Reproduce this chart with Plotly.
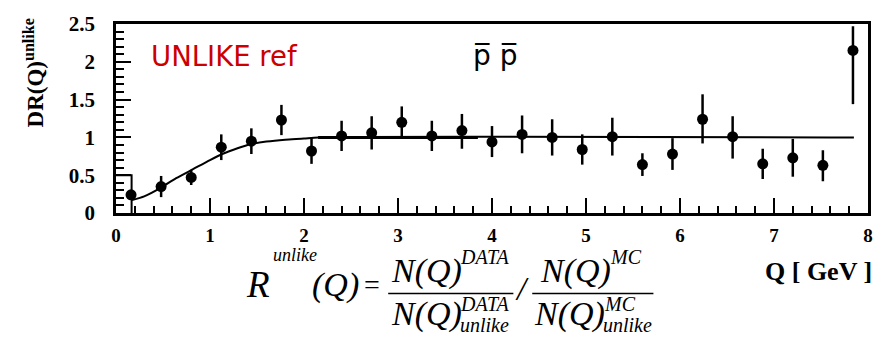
import plotly.graph_objects as go

# ---- data ----
q = [0.16, 0.48, 0.80, 1.12, 1.44, 1.76, 2.08, 2.40, 2.72, 3.04, 3.36, 3.68, 4.00,
     4.32, 4.64, 4.96, 5.28, 5.60, 5.92, 6.24, 6.56, 6.88, 7.20, 7.52, 7.84]
ratio = [0.24, 0.35, 0.47, 0.87, 0.95, 1.23, 0.82, 1.02, 1.06, 1.20, 1.02, 1.09, 0.94,
         1.04, 1.00, 0.84, 1.01, 0.64, 0.78, 1.24, 1.01, 0.65, 0.73, 0.63, 2.15]
err_up = [0.05, 0.14, 0.10, 0.17, 0.17, 0.20, 0.17, 0.20, 0.22, 0.21, 0.20, 0.22, 0.21,
          0.25, 0.24, 0.20, 0.25, 0.15, 0.21, 0.33, 0.27, 0.20, 0.25, 0.20, 0.32]
err_down = [0.05, 0.14, 0.10, 0.17, 0.17, 0.20, 0.17, 0.20, 0.22, 0.19, 0.20, 0.24, 0.20,
            0.25, 0.24, 0.20, 0.25, 0.15, 0.21, 0.32, 0.29, 0.20, 0.25, 0.21, 0.71]

fit_q = [0.17, 0.30, 0.47, 0.64, 0.82, 1.00, 1.13, 1.30, 1.43, 1.60, 1.80, 2.00, 2.15, 7.85]
fit_r = [0.17, 0.22, 0.33, 0.46, 0.58, 0.70, 0.78, 0.86, 0.91, 0.945, 0.97, 0.985, 1.0, 1.0]
flat_q = [2.15, 3.85]
flat_r = [1.0, 1.0]
step_q = [0.0, 0.166, 0.166]
step_r = [0.5, 0.5, 0.0]

x_ticks = [0, 1, 2, 3, 4, 5, 6, 7, 8]
x_labels = ["0", "1", "2", "3", "4", "5", "6", "7", "8"]
y_ticks = [0, 0.5, 1, 1.5, 2, 2.5]
y_labels = ["0", "0.5", "1", "1.5", "2", "2.5"]

W, H = 885, 339
L, R, T, B = 116, 873, 16, 213


def px(x):
    return (x - L) / (R - L)


def py(y):
    return (B - y) / (B - T)


fig = go.Figure()
fig.add_trace(go.Scatter(x=step_q, y=step_r, mode="lines",
                         line=dict(color="black", width=2), hoverinfo="skip"))
fig.add_trace(go.Scatter(x=fit_q, y=fit_r, mode="lines",
                         line=dict(color="black", width=2, shape="spline", smoothing=0.6)))
fig.add_trace(go.Scatter(x=flat_q, y=flat_r, mode="lines",
                         line=dict(color="black", width=3)))
fig.add_trace(go.Scatter(
    x=q, y=ratio, mode="markers",
    marker=dict(color="black", size=11, symbol="circle"),
    error_y=dict(type="data", symmetric=False, array=err_up, arrayminus=err_down,
                 color="black", thickness=2.5, width=0),
))

serif = "Liberation Serif"
ann = []


def txt(s, x, y, size, xanchor="left", yanchor="middle", italic=True, bold=False,
        family=serif, color="black", angle=0):
    f = dict(family=family, size=size, color=color)
    if italic:
        f["style"] = "italic"
    if bold:
        f["weight"] = "bold"
    ann.append(dict(text=s, x=px(x), y=py(y), xref="paper", yref="paper",
                    xanchor=xanchor, yanchor=yanchor, showarrow=False, font=f,
                    textangle=angle, borderpad=0))


# in-plot labels
txt("UNLIKE ref", 150, 49, 27.5, italic=False, family="DejaVu Sans", color="#CC0000")
txt("p\u0305 p\u0305", 498, 49, 28, xanchor="center", italic=False, family="DejaVu Sans")

# axis titles
txt("DR(Q)<sup>unlike</sup>", 34, 67, 23, xanchor="center", italic=False, bold=True, angle=-90)
txt("Q [ GeV ]", 878, 274, 26, xanchor="right", italic=False, bold=True)

# formula
txt("R", 246, 288, 37)
txt("unlike", 273, 257, 18)
txt("(Q)", 312, 288, 34)
txt("=", 374, 288, 28, xanchor="center", italic=False)
txt("N(Q)", 392, 273, 34)
txt("DATA", 461, 259, 20)
txt("N(Q)", 392, 318, 34)
txt("DATA", 461, 308, 20)
txt("unlike", 461, 330, 20)
txt("/", 525, 292, 33, xanchor="center")
txt("N(Q)", 542, 273, 34)
txt("MC", 612, 259, 20)
txt("N(Q)", 536, 318, 34)
txt("MC", 606, 308, 20)
txt("unlike", 605, 330, 20)

shapes = [
    dict(type="line", xref="paper", yref="paper", x0=px(390), x1=px(516), y0=py(297), y1=py(297),
         line=dict(color="black", width=1.5)),
    dict(type="line", xref="paper", yref="paper", x0=px(535), x1=px(657), y0=py(297), y1=py(297),
         line=dict(color="black", width=1.5)),
]

fig.update_layout(
    width=W, height=H,
    margin=dict(l=L, r=W - R, t=T, b=H - B, pad=0),
    paper_bgcolor="white", plot_bgcolor="white",
    showlegend=False,
    annotations=ann, shapes=shapes,
    xaxis=dict(range=[0, 8], tickmode="array", tickvals=x_ticks, ticktext=x_labels,
               ticks="inside", ticklen=15, tickwidth=2, tickcolor="black",
               minor=dict(tickmode="linear", tick0=0, dtick=0.2, ticks="inside", ticklen=7,
                          tickwidth=2, tickcolor="black"),
               showline=True, linewidth=2.5, linecolor="black", mirror=True,
               showgrid=False, zeroline=False,
               tickfont=dict(family=serif, size=19, weight="bold", color="black"),
               ticklabelstandoff=3),
    yaxis=dict(range=[0, 2.5], tickmode="array", tickvals=y_ticks, ticktext=y_labels,
               ticks="inside", ticklen=15, tickwidth=2, tickcolor="black",
               minor=dict(tickmode="linear", tick0=0, dtick=0.1, ticks="inside", ticklen=8,
                          tickwidth=2, tickcolor="black"),
               showline=True, linewidth=2.5, linecolor="black", mirror=True,
               showgrid=False, zeroline=False,
               tickfont=dict(family=serif, size=21, weight="bold", color="black"),
               ticklabelstandoff=14),
)

fig.write_html("out.html")
